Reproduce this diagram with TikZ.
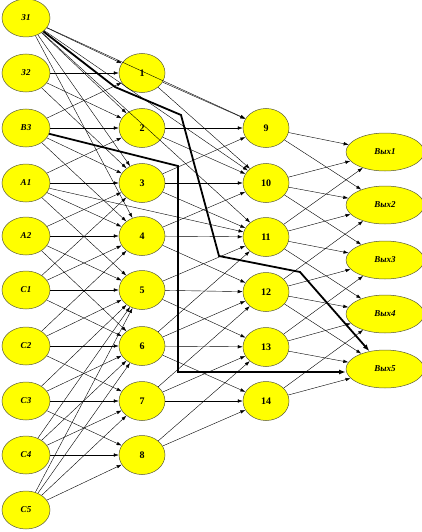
\documentclass[tikz,border=0pt]{standalone}
\usepackage{fontspec}
\setmainfont{Liberation Serif}
\usetikzlibrary{shapes.geometric,arrows.meta}
\definecolor{nodeyellow}{RGB}{255,255,0}
\definecolor{rimgray}{RGB}{90,90,60}
\begin{document}
\begin{tikzpicture}[x=1pt,y=-1pt,
  base/.style={ellipse, draw=rimgray, line width=0.5pt, fill=nodeyellow, inner sep=0pt},
  inp/.style={base, minimum width=48pt, minimum height=38pt, font=\bfseries\itshape\fontsize{9}{9}\selectfont},
  hid/.style={base, minimum width=46pt, minimum height=39pt, font=\bfseries\fontsize{10}{10}\selectfont},
  outn/.style={base, minimum width=78pt, minimum height=38pt, font=\bfseries\itshape\fontsize{9}{9}\selectfont},
  conn/.style={-{Latex[length=5pt,width=3.5pt]}, line width=0.4pt},
  boldpath/.style={-{Latex[length=7pt,width=5pt]}, line width=1.8pt, line join=miter}]
\useasboundingbox (0,0) rectangle (422,532);
% inputs
\node[inp] (Z1) at (26,18) {З1};
\node[inp] (Z2) at (26,73) {З2};
\node[inp] (B3) at (26,128) {В3};
\node[inp] (A1) at (26,183) {А1};
\node[inp] (A2) at (26,236) {А2};
\node[inp] (C1) at (26,290) {С1};
\node[inp] (C2) at (26,346) {С2};
\node[inp] (C3) at (26,401) {С3};
\node[inp] (C4) at (26,455) {С4};
\node[inp] (C5) at (26,510) {С5};
% first layer
\node[hid] (N1) at (142,73) {1};
\node[hid] (N2) at (142,128) {2};
\node[hid] (N3) at (142,183) {3};
\node[hid] (N4) at (142,236) {4};
\node[hid] (N5) at (142,290) {5};
\node[hid] (N6) at (142,346) {6};
\node[hid] (N7) at (142,401) {7};
\node[hid] (N8) at (142,455) {8};
% second layer
\node[hid] (N9) at (266,128) {9};
\node[hid] (N10) at (266,183) {10};
\node[hid] (N11) at (266,237) {11};
\node[hid] (N12) at (266,292) {12};
\node[hid] (N13) at (266,347) {13};
\node[hid] (N14) at (266,401) {14};
% outputs
\node[outn] (O1) at (385,152) {Вых1};
\node[outn] (O2) at (385,205) {Вых2};
\node[outn] (O3) at (385,260) {Вых3};
\node[outn] (O4) at (385,314) {Вых4};
\node[outn] (O5) at (385,369) {Вых5};
% thin connectors
\foreach \a/\b in {Z1/N1,Z1/N2,Z1/N3,Z1/N4,Z1/N9,Z1/N10,Z1/N11,
  Z2/N1,Z2/N2,Z2/N3,
  B3/N1,B3/N2,B3/N3,B3/N4,
  A1/N2,A1/N3,A1/N4,A1/N5,A1/N11,
  A2/N3,A2/N4,A2/N5,A2/N6,
  C1/N3,C1/N4,C1/N5,C1/N6,
  C2/N4,C2/N5,C2/N6,C2/N7,
  C3/N5,C3/N6,C3/N7,C3/N8,
  C4/N5,C4/N6,C4/N7,C4/N8,
  C5/N5,C5/N6,C5/N7,C5/N8,
  N1/N9,N1/N10,N2/N9,N2/N10,
  N3/N9,N3/N10,N3/N11,
  N4/N10,N4/N11,N4/N12,
  N5/N11,N5/N12,N5/N13,
  N6/N11,N6/N12,N6/N13,N6/N14,
  N7/N12,N7/N13,N7/N14,
  N8/N13,N8/N14,
  N9/O1,N9/O2,
  N10/O1,N10/O2,N10/O3,
  N11/O1,N11/O2,N11/O3,N11/O4,
  N12/O2,N12/O3,N12/O4,N12/O5,
  N13/O3,N13/O4,N13/O5,
  N14/O4,N14/O5}
  \draw[conn] (\a) -- (\b);
% bold paths
\coordinate (p1) at (115,87);
\coordinate (p2) at (181,115);
\coordinate (p3) at (219,256);
\coordinate (p4) at (300,272);
\coordinate (q1) at (178,166);
\coordinate (q2) at (178,372);
\coordinate (q3) at (346,372);
\draw[boldpath] (Z1) -- (p1) -- (p2) -- (p3) -- (p4) -- (O5);
\draw[boldpath] (B3) -- (q1) -- (q2) -- (q3);
\end{tikzpicture}
\end{document}
